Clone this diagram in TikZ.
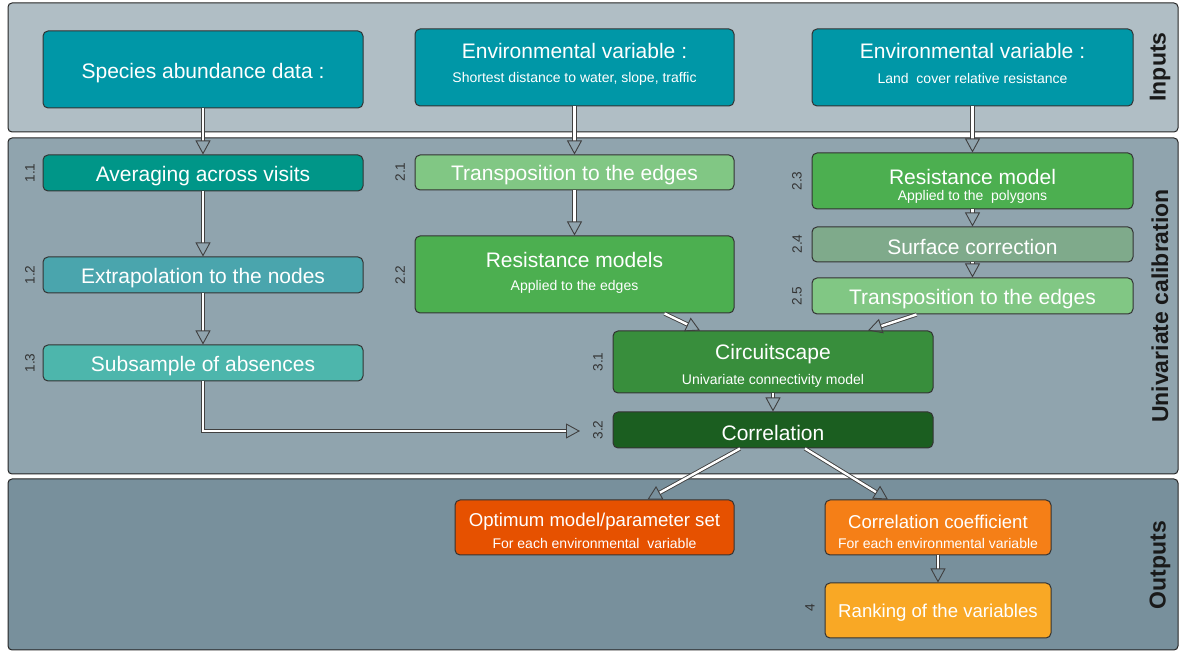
\documentclass[tikz,border=0pt]{standalone}
\usepackage{fontspec}
\setmainfont{Liberation Sans}
\usetikzlibrary{arrows.meta}

\definecolor{pIn}{HTML}{B0BEC5}
\definecolor{pCal}{HTML}{90A4AE}
\definecolor{pOut}{HTML}{78909C}
\definecolor{cCyan}{HTML}{0097A7}
\definecolor{cTeal}{HTML}{009688}
\definecolor{cTealB}{HTML}{4AA5AD}
\definecolor{cTealC}{HTML}{4DB6AC}
\definecolor{gLight}{HTML}{81C784}
\definecolor{gMid}{HTML}{4CAF50}
\definecolor{gGrey}{HTML}{7FAA8B}
\definecolor{gDark}{HTML}{388E3C}
\definecolor{gDeep}{HTML}{1B5E20}
\definecolor{oRed}{HTML}{E65100}
\definecolor{oOrange}{HTML}{F57F17}
\definecolor{oYellow}{HTML}{F9A825}

\begin{document}
\begin{tikzpicture}[x=0.5pt,y=-0.5pt,
  panel/.style={draw=black!85, line width=0.5pt, rounded corners=2pt},
  box/.style={draw=black!80, line width=0.5pt, rounded corners=2.5pt, inner sep=0pt},
  ttl/.style={text=white, font=\fontsize{10.5}{12}\selectfont, inner sep=0pt},
  ttlo/.style={text=white, font=\fontsize{9.3}{11}\selectfont, inner sep=0pt},
  subt/.style={text=white, font=\fontsize{7}{8}\selectfont, inner sep=0pt},
  num/.style={rotate=90, text=black!80, font=\fontsize{6.8}{7}\selectfont, inner sep=0pt},
  side/.style={rotate=90, text=black!90, font=\bfseries\fontsize{11.5}{13}\selectfont, inner sep=0pt},
  dbl/.style={draw=black!75, line width=0.45pt, double=white, double distance=1.2pt,
    -{Triangle[open,length=7pt,width=7.5pt]}}]
\useasboundingbox (0,0) rectangle (1180,652);

% Panels
\draw[panel, fill=pIn]  (8,3)   rectangle (1178,132);
\draw[panel, fill=pCal] (8,138) rectangle (1178,474);
\draw[panel, fill=pOut] (8,479) rectangle (1178,650);
\node[side] (lIn)  at (1160,67)  {Inputs};
\node[side] (lCal) at (1160,306) {Univariate calibration};
\node[side] (lOut) at (1160,565) {Outputs};

% Inputs
\node[box, fill=cCyan, minimum width=160pt, minimum height=38.5pt] (sp) at (203,69.5) {};
\node[ttl] (spT) at (203,73) {Species abundance data :};
\node[box, fill=cCyan, minimum width=159.5pt, minimum height=38.5pt] (e1) at (574.5,67.5) {};
\node[ttl] (e1T) at (574.5,51) {Environmental variable :};
\node[subt] (e1S) at (574.5,78.5) {Shortest distance to water, slope, traffic};
\node[box, fill=cCyan, minimum width=160.5pt, minimum height=38.5pt] (e2) at (972.5,67.5) {};
\node[ttl] (e2T) at (972.5,51) {Environmental variable :};
\node[subt] (e2S) at (972.5,78.5) {Land\ \ cover relative resistance};

% Column 1
\node[box, fill=cTeal, minimum width=160pt, minimum height=18pt] (avg) at (203,173) {};
\node[ttl] (avgT) at (203,176) {Averaging across visits};
\node[box, fill=cTealB, minimum width=160pt, minimum height=18pt] (ext) at (203,275) {};
\node[ttl] (extT) at (203,278) {Extrapolation to the nodes};
\node[box, fill=cTealC, minimum width=160pt, minimum height=18pt] (sub) at (203,363) {};
\node[ttl] (subT) at (203,366) {Subsample of absences};

% Column 2
\node[box, fill=gLight, minimum width=159.5pt, minimum height=17.5pt] (tr1) at (574.5,172.5) {};
\node[ttl] (tr1T) at (574.5,175.5) {Transposition to the edges};
\node[box, fill=gMid, minimum width=159.5pt, minimum height=38.5pt] (rm) at (574.5,274.5) {};
\node[ttl] (rmT) at (574.5,260) {Resistance models};
\node[subt] (rmS) at (574.5,286.5) {Applied to the edges};

% Column 3
\node[box, fill=gMid, minimum width=160.5pt, minimum height=28pt] (rp) at (972.5,181) {};
\node[ttl] (rpT) at (972.5,177) {Resistance model};
\node[subt] (rpS) at (972.5,196.5) {Applied to the\ \ polygons};
\node[box, fill=gGrey, minimum width=160.5pt, minimum height=17.5pt] (sc) at (972.5,244.5) {};
\node[ttl] (scT) at (972.5,247) {Surface correction};
\node[box, fill=gLight, minimum width=160.5pt, minimum height=18pt] (tr2) at (972.5,296) {};
\node[ttl] (tr2T) at (972.5,299) {Transposition to the edges};

% Connectivity and correlation
\node[box, fill=gDark, minimum width=160pt, minimum height=31pt] (cs) at (773,362) {};
\node[ttl] (csT) at (773,354) {Circuitscape};
\node[subt] (csS) at (773,380.5) {Univariate connectivity model};
\node[box, fill=gDeep, minimum width=160pt, minimum height=18pt] (cor) at (773,430) {};
\node[ttl] (corT) at (773,433) {Correlation};

% Outputs
\node[box, fill=oRed, minimum width=139.5pt, minimum height=27.5pt] (opt) at (594.5,527.5) {};
\node[ttlo] (optT) at (594.5,521.5) {Optimum model/parameter set};
\node[subt] (optS) at (594.5,543) {For each environmental\ \ variable};
\node[box, fill=oOrange, minimum width=113pt, minimum height=27.5pt] (cc) at (938,527.5) {};
\node[ttlo] (ccT) at (938,521.5) {Correlation coefficient};
\node[subt] (ccS) at (938,543) {For each environmental variable};
\node[box, fill=oYellow, minimum width=113pt, minimum height=27.5pt] (rk) at (938,610.5) {};
\node[ttlo] (rkT) at (938,613) {Ranking of the variables};

% Step numbers
\node[num] (n11) at (30,173) {1.1};
\node[num] (n12) at (30,275) {1.2};
\node[num] (n13) at (30,363) {1.3};
\node[num] (n21) at (400,172) {2.1};
\node[num] (n22) at (400,275) {2.2};
\node[num] (n23) at (797,181) {2.3};
\node[num] (n24) at (797,244) {2.4};
\node[num] (n25) at (797,296) {2.5};
\node[num] (n31) at (598,362) {3.1};
\node[num] (n32) at (598,430) {3.2};
\node[num] (n4)  at (810,608) {4};

% Connectors
\draw[dbl] (sp.south) -- (avg.north);
\draw[dbl] (avg.south) -- (ext.north);
\draw[dbl] (ext.south) -- (sub.north);
\coordinate (subEnd) at (580,431);
\draw[dbl] (sub.south) |- (subEnd);
\draw[dbl] (e1.south) -- (tr1.north);
\draw[dbl] (tr1.south) -- (rm.north);
\draw[dbl] ([xshift=45pt]rm.south) -- ([xshift=-36.5pt]cs.north);
\draw[dbl] (e2.south) -- (rp.north);
\draw[dbl] (rp.south) -- (sc.north);
\draw[dbl] (sc.south) -- (tr2.north);
\draw[dbl] ([xshift=-28pt]tr2.south) -- ([xshift=47.5pt]cs.north);
\draw[dbl] (cs.south) -- (cor.north);
\draw[dbl] ([xshift=-16.5pt]cor.south) -- ([xshift=26.5pt]opt.north);
\draw[dbl] ([xshift=16pt]cor.south) -- ([xshift=-25pt]cc.north);
\draw[dbl] (cc.south) -- (rk.north);
\end{tikzpicture}
\end{document}
